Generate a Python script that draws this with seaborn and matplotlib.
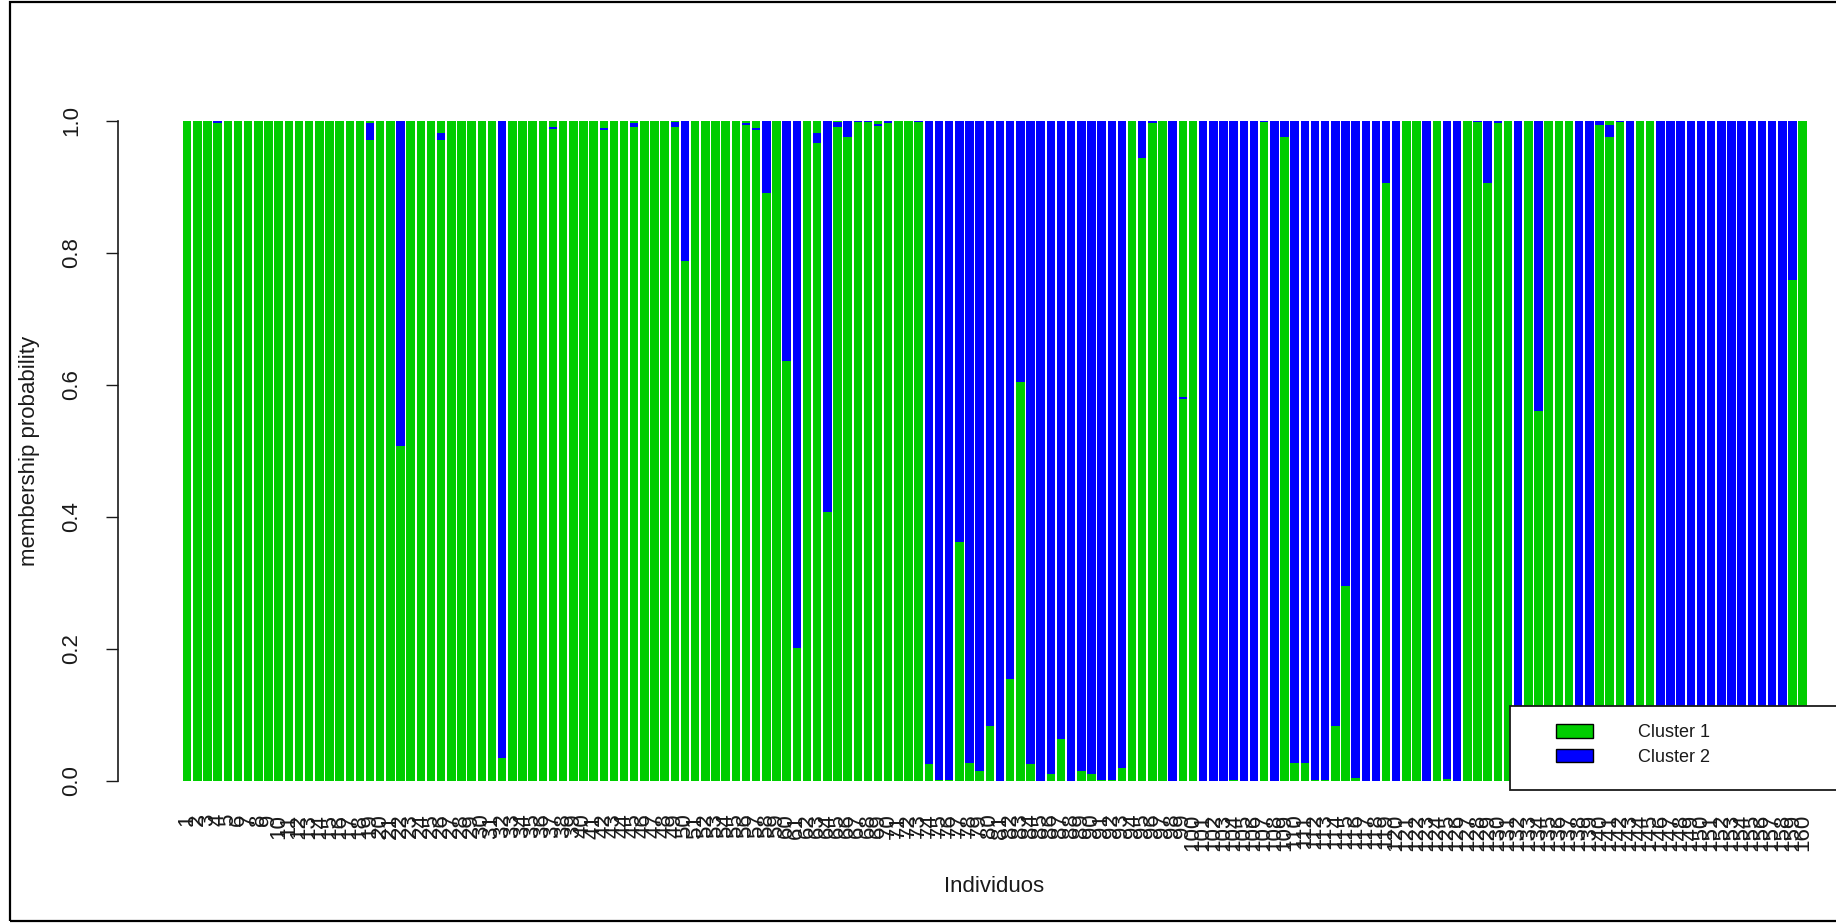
import numpy as np
import pandas as pd
import matplotlib
matplotlib.use("Agg")
import matplotlib.pyplot as plt
import seaborn as sns
from matplotlib.patches import Patch, Rectangle

# ---------------- data ----------------
individuals = [str(i) for i in range(1, 161)]

# membership probability for cluster 1 (bottom green segment)
cluster1 = [
    1, 1, 1, 0.996, 1, 1, 1, 1, 1, 1,
    1, 1, 1, 1, 1, 1, 1, 1, 0.971, 1,
    1, 0.507, 1, 1, 1, 0.971, 1, 1, 1, 1,
    1, 0.035, 1, 1, 1, 1, 0.988, 1, 1, 1,
    1, 0.986, 1, 1, 0.990, 1, 1, 1, 0.991, 0.787,
    1, 1, 1, 1, 1, 0.994, 0.986, 0.891, 1, 0.636,
    0.202, 1, 0.966, 0.408, 0.990, 0.975, 0.998, 0.998, 0.992, 0.996,
    1, 1, 0.998, 0.025, 0.001, 0.001, 0.362, 0.028, 0.015, 0.084,
    0, 0.155, 0.604, 0.025, 0, 0.011, 0.063, 0, 0.015, 0.010,
    0.002, 0.002, 0.020, 1, 0.944, 0.997, 1, 0, 0.578, 1,
    0, 0, 0, 0.001, 0, 0, 0.998, 0, 0.975, 0.027,
    0.027, 0.001, 0.001, 0.084, 0.295, 0.005, 0, 0, 0.906, 0,
    1, 1, 0, 1, 0.003, 0, 1, 0.998, 0.906, 0.997,
    1, 0, 1, 0.561, 1, 1, 1, 0, 0, 0.994,
    0.975, 0.998, 0, 1, 1, 0, 0, 0, 0, 0,
    0, 0, 0, 0, 0, 0, 0, 0, 0.759, 1,
]

# membership probability for cluster 2 (blue segment)
cluster2 = [
    0, 0, 0, 0.003, 0, 0, 0, 0, 0, 0,
    0, 0, 0, 0, 0, 0, 0, 0, 0.025, 0,
    0, 0.493, 0, 0, 0, 0.010, 0, 0, 0, 0,
    0, 0.965, 0, 0, 0, 0, 0.003, 0, 0, 0,
    0, 0.003, 0, 0, 0.006, 0, 0, 0, 0.007, 0.213,
    0, 0, 0, 0, 0, 0.002, 0.003, 0.109, 0, 0.364,
    0.798, 0, 0.015, 0.592, 0.008, 0.025, 0.002, 0.002, 0.003, 0.003,
    0, 0, 0.002, 0.975, 0.999, 0.999, 0.638, 0.972, 0.985, 0.916,
    1, 0.845, 0.396, 0.975, 1, 0.989, 0.937, 1, 0.985, 0.990,
    0.998, 0.998, 0.980, 0, 0.056, 0.003, 0, 1, 0.004, 0,
    1, 1, 1, 0.999, 1, 1, 0.002, 1, 0.025, 0.973,
    0.973, 0.999, 0.999, 0.916, 0.705, 0.995, 1, 1, 0.094, 1,
    0, 0, 1, 0, 0.997, 1, 0, 0.002, 0.094, 0.003,
    0, 1, 0, 0.439, 0, 0, 0, 1, 1, 0.006,
    0.019, 0.002, 1, 0, 0, 1, 1, 1, 1, 1,
    1, 1, 1, 1, 1, 1, 1, 1, 0.241, 0,
]

# remaining share stacked on top (drawn in the cluster-1 colour, as in the original)
cluster_rest = [
    0, 0, 0, 0.001, 0, 0, 0, 0, 0, 0,
    0, 0, 0, 0, 0, 0, 0, 0, 0.004, 0,
    0, 0, 0, 0, 0, 0.019, 0, 0, 0, 0,
    0, 0, 0, 0, 0, 0, 0.009, 0, 0, 0,
    0, 0.011, 0, 0, 0.004, 0, 0, 0, 0.002, 0,
    0, 0, 0, 0, 0, 0.004, 0.011, 0, 0, 0,
    0, 0, 0.019, 0, 0.002, 0, 0, 0, 0.005, 0.001,
    0, 0, 0, 0, 0, 0, 0, 0, 0, 0,
    0, 0, 0, 0, 0, 0, 0, 0, 0, 0,
    0, 0, 0, 0, 0, 0, 0, 0, 0.418, 0,
    0, 0, 0, 0, 0, 0, 0, 0, 0, 0,
    0, 0, 0, 0, 0, 0, 0, 0, 0, 0,
    0, 0, 0, 0, 0, 0, 0, 0, 0, 0,
    0, 0, 0, 0, 0, 0, 0, 0, 0, 0,
    0.006, 0, 0, 0, 0, 0, 0, 0, 0, 0,
    0, 0, 0, 0, 0, 0, 0, 0, 0, 0,
]

legend_labels = ["Cluster 1", "Cluster 2"]
y_ticks = [0.0, 0.2, 0.4, 0.6, 0.8, 1.0]

GREEN = "#00CD00"
BLUE = "#0000FF"
TXT = "#1a1a1a"

# ---------------- figure ----------------
sns.set_theme(style="white")
plt.rcParams['font.family'] = ['Liberation Sans', 'DejaVu Sans']

W, H = 1836, 923
fig = plt.figure(figsize=(W / 100, H / 100), dpi=100)
fig.patch.set_facecolor("white")

ax_l, ax_r, ax_t, ax_b = 118, 1836, 94.3, 807.4
ax = fig.add_axes([ax_l / W, 1 - ax_b / H, (ax_r - ax_l) / W, (ax_b - ax_t) / H])
ax.set_facecolor("white")

df = pd.DataFrame({"ind": individuals, "c1": cluster1, "c2": cluster2, "c3": cluster_rest})
df["upper"] = df["c1"] + df["c2"] + df["c3"]
df["mid"] = df["c1"] + df["c2"]

common = dict(x="ind", order=individuals, width=1 / 1.2, saturation=1,
              errorbar=None, linewidth=0, ax=ax)
sns.barplot(data=df, y="upper", color=GREEN, **common)
sns.barplot(data=df, y="mid", color=BLUE, **common)
sns.barplot(data=df, y="c1", color=GREEN, **common)

pitch = 10.16
x0_px = 187.2
ax.set_xlim((ax_l - x0_px) / pitch, (ax_r - x0_px) / pitch)
ax.set_ylim(-0.04, 1.04)

for s in ["top", "right", "bottom"]:
    ax.spines[s].set_visible(False)
ax.spines["left"].set_bounds(0, 1)
ax.spines["left"].set_color(TXT)
ax.spines["left"].set_linewidth(1.2)

ax.set_yticks(y_ticks)
ax.set_yticklabels([f"{v:.1f}" for v in y_ticks])
ax.tick_params(axis="y", left=True, length=8.6, width=1.0, color=TXT,
               direction="out", pad=17, labelsize=16, labelcolor=TXT,
               labelrotation=90)
for lbl in ax.get_yticklabels():
    lbl.set_va("center")

ax.set_xticks(range(len(individuals)))
ax.set_xticklabels(individuals, rotation=90, va="top", ha="center",
                   fontsize=16, color=TXT)
ax.tick_params(axis="x", bottom=False, length=0, pad=4.5)

ax.set_ylabel("membership probability", fontsize=16, color=TXT, va="center")
ax.yaxis.set_label_coords(30 / W, 1 - 451 / H, transform=fig.transFigure)
ax.set_xlabel("Individuos", fontsize=16, color=TXT, va="center")
ax.xaxis.set_label_coords(994 / W, 1 - 886 / H, transform=fig.transFigure)

# legend frame (white box, runs off the right edge as in the cropped original)
fig.add_artist(Rectangle((1510 / W, 1 - 790 / H), 400 / W, (790 - 706) / H,
                         transform=fig.transFigure, facecolor="white",
                         edgecolor=TXT, linewidth=1.3, zorder=4))
handles = [Patch(facecolor=GREEN, edgecolor="black", linewidth=1.0, label=legend_labels[0]),
           Patch(facecolor=BLUE, edgecolor="black", linewidth=1.0, label=legend_labels[1])]
leg = fig.legend(handles=handles, loc="upper left", bbox_to_anchor=(1556 / W, 1 - 724 / H),
                 frameon=False, fontsize=13, handlelength=2.05, handleheight=0.78,
                 handletextpad=2.5, labelspacing=0.42, borderpad=0, borderaxespad=0)
leg.set_zorder(6)
for t in leg.get_texts():
    t.set_color(TXT)

# outer frame of the original screenshot
fig.add_artist(Rectangle((10 / W, 2 / H), 2000 / W, (921 - 2) / H,
                         transform=fig.transFigure, fill=False,
                         edgecolor="black", linewidth=1.6, zorder=7))

fig.savefig("out.png", dpi=100, facecolor="white")
